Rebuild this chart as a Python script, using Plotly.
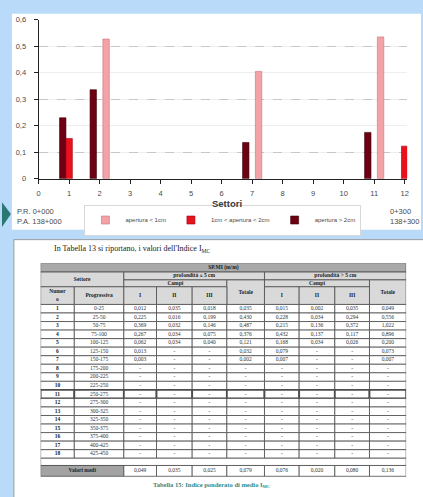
import plotly.graph_objects as go

W, H = 423, 497

# ---------------- bar chart data ----------------
sectors = [1, 2, 3, 4, 5, 6, 7, 8, 9, 10, 11, 12]
ap_lt1 = [None, 0.527, None, None, None, None, 0.405, None, None, None, 0.535, None]
ap_1_2 = [0.152, None, None, None, None, None, None, None, None, None, None, 0.123]
ap_gt2 = [0.230, 0.336, None, None, None, None, 0.137, None, None, None, 0.175, None]
y_ticks = [0, 0.1, 0.2, 0.3, 0.4, 0.5, 0.6]
y_tick_labels = ["0", "0,1", "0,2", "0,3", "0,4", "0,5", "0,6"]
x_ticks = [0, 1, 2, 3, 4, 5, 6, 7, 8, 9, 10, 11, 12]
dashed_levels = [0.1, 0.3, 0.5]

# ---------------- table data ----------------
row_num = [str(i) for i in range(1, 19)]
row_prog = ["0-25", "25-50", "50-75", "75-100", "100-125", "125-150", "150-175",
            "175-200", "200-225", "225-250", "250-275", "275-300", "300-325",
            "325-350", "350-375", "375-400", "400-425", "425-450"]
D = "-"
sh_I = ["0,012", "0,225", "0,369", "0,267", "0,062", "0,013", "0,003"] + [D] * 11
sh_II = ["0,035", "0,016", "0,032", "0,034", "0,034", D, D] + [D] * 11
sh_III = ["0,018", "0,199", "0,146", "0,075", "0,040", D, D] + [D] * 11
sh_tot = ["0,035", "0,430", "0,487", "0,376", "0,121", "0,032", "0,002"] + [D] * 11
dp_I = ["0,015", "0,228", "0,215", "0,432", "0,168", "0,079", "0,007"] + [D] * 11
dp_II = ["0,002", "0,034", "0,136", "0,137", "0,034", D, D] + [D] * 11
dp_III = ["0,035", "0,294", "0,372", "0,117", "0,026", D, D] + [D] * 11
dp_tot = ["0,049", "0,556", "1,022", "0,896", "0,200", "0,073", "0,007"] + [D] * 11
mean_vals = ["0,049", "0,035", "0,025", "0,079", "0,076", "0,020", "0,080", "0,136"]

# ---------------- styling ----------------
BG = "#b9dbf9"
PINK, RED, DARK = "#f3a3a8", "#e8121c", "#6d0012"
PINK_L, RED_L, DARK_L = "#c87078", "#a00010", "#3a0008"
TXT = "#4a4a4a"
SANS = "Liberation Sans, Arial, sans-serif"
SERIF = "Liberation Serif, Times New Roman, serif"


def px_x(v):
    return v / W


def px_y(v):
    return 1 - v / H


fig = go.Figure()

# bars: grouped left to right as > 2cm, 1-2cm, < 1cm
series = [
    (ap_gt2, "apertura &gt; 2cm", DARK, DARK_L),
    (ap_1_2, "1cm &lt; apertura &lt; 2cm", RED, RED_L),
    (ap_lt1, "apertura &lt; 1cm", PINK, PINK_L),
]
for vals, name, fill, edge in series:
    fig.add_trace(go.Bar(x=sectors, y=vals, name=name, showlegend=False,
                         marker=dict(color=fill, line=dict(color=edge, width=0.6))))
# compact square legend keys
for vals, name, fill, edge in series:
    fig.add_trace(go.Scatter(x=[None], y=[None], name=name, mode="markers",
                             marker=dict(symbol="square", size=8, color=fill,
                                         line=dict(color=edge, width=0.6)),
                             hoverinfo="skip"))
# carrier for the dashed grid axis
fig.add_trace(go.Scatter(x=[0], y=[0], yaxis="y2", mode="markers",
                         marker=dict(opacity=0), showlegend=False, hoverinfo="skip"))

# ---------------- table geometry (pixel units on x3/y3) ----------------
COL_EDGES = [39, 73, 123, 156, 192, 227, 265, 300, 336, 371, 408]
T_TOP, T_BOT = 264, 482
ROW0, ROW_H = 306, 8.7
BLANK_BOT = 470
HDR_FILL, TITLE_FILL, MEAN_FILL = "#d9d9d9", "#a9a9a9", "#a3a3a3"
LINE_C = "#4d4d4d"

shapes = []
texts_x, texts_y, texts = [], [], []
btexts_x, btexts_y, btexts = [], [], []


def cell(c0, c1, y0, y1, fill="white", text=None, bold=False, lw=0.8):
    shapes.append(dict(type="rect", xref="x3", yref="y3",
                       x0=COL_EDGES[c0], x1=COL_EDGES[c1], y0=y0, y1=y1,
                       fillcolor=fill, line=dict(color=LINE_C, width=lw), layer="below"))
    if text is not None:
        cx = (COL_EDGES[c0] + COL_EDGES[c1]) / 2
        cy = (y0 + y1) / 2
        if bold:
            btexts_x.append(cx); btexts_y.append(cy); btexts.append(text)
        else:
            texts_x.append(cx); texts_y.append(cy); texts.append(text)


# panels (paper coords)
shapes.append(dict(type="rect", xref="paper", yref="paper",
                   x0=px_x(10), x1=1.0, y0=px_y(230), y1=px_y(10),
                   fillcolor="white", line=dict(width=0), layer="below"))
shapes.append(dict(type="rect", xref="paper", yref="paper",
                   x0=px_x(12), x1=1.02, y0=-0.02, y1=px_y(240),
                   fillcolor="white", line=dict(color="#9a9a9a", width=1), layer="below"))
# arrow tip at the left edge
shapes.append(dict(type="path", xref="paper", yref="paper",
                   path=f"M 0,{px_y(202)} L {px_x(9)},{px_y(214)} L 0,{px_y(227)} Z",
                   fillcolor="#2b7774", line=dict(width=0), layer="above"))

# header block
cell(0, 10, T_TOP, 273, TITLE_FILL, "SP.MI (m/m)", True)
cell(0, 2, 273, 288, HDR_FILL, "Settore", True)
cell(2, 6, 273, 281, HDR_FILL, "profondità ≤ 5 cm", True)
cell(6, 10, 273, 281, HDR_FILL, "profondità > 5 cm", True)
cell(2, 5, 281, 288, HDR_FILL, "Campi", True)
cell(6, 9, 281, 288, HDR_FILL, "Campi", True)
cell(5, 6, 281, ROW0, HDR_FILL, "Totale", True)
cell(9, 10, 281, ROW0, HDR_FILL, "Totale", True)
cell(0, 1, 288, ROW0, HDR_FILL, "Numer<br>o", True)
cell(1, 2, 288, ROW0, HDR_FILL, "Progressiva", True)
for c, lab in zip([2, 3, 4, 6, 7, 8], ["I", "II", "III", "I", "II", "III"]):
    cell(c, c + 1, 288, ROW0, HDR_FILL, lab, True)

# body
columns = [row_num, row_prog, sh_I, sh_II, sh_III, sh_tot, dp_I, dp_II, dp_III, dp_tot]
for r in range(len(row_num)):
    y0 = ROW0 + r * ROW_H
    lw = 1.8 if r == 10 else 0.8
    for c, col in enumerate(columns):
        cell(c, c + 1, y0, y0 + ROW_H, "white", col[r], bold=(c == 0), lw=lw)
body_bot = ROW0 + len(row_num) * ROW_H
cell(0, 10, body_bot, BLANK_BOT, "white")
cell(0, 2, BLANK_BOT, T_BOT - 1, MEAN_FILL, "Valori medi", True)
for c, v in enumerate(mean_vals):
    cell(c + 2, c + 3, BLANK_BOT, T_BOT - 1, "white", v)

fig.add_trace(go.Scatter(x=texts_x, y=texts_y, text=texts, mode="text", xaxis="x3", yaxis="y3",
                         textfont=dict(family=SERIF, size=5.5, color="#333"),
                         showlegend=False, hoverinfo="skip"))
fig.add_trace(go.Scatter(x=btexts_x, y=btexts_y, text=[f"<b>{t}</b>" for t in btexts],
                         mode="text", xaxis="x3", yaxis="y3",
                         textfont=dict(family=SERIF, size=5.5, color="#222"),
                         showlegend=False, hoverinfo="skip"))

annotations = [
    dict(text="<b>Settori</b>", x=px_x(227), y=px_y(203), xref="paper", yref="paper",
         yanchor="middle", showarrow=False, font=dict(family=SANS, size=9.5, color="#3a3a3a")),
    dict(text="P.R. 0+000<br>P.A. 138+000", x=px_x(13), y=px_y(216), xref="paper", yref="paper",
         xanchor="left", yanchor="middle", align="left", showarrow=False,
         font=dict(family=SANS, size=7.5, color=TXT)),
    dict(text="0+300<br>138+300", x=px_x(390), y=px_y(216), xref="paper", yref="paper",
         xanchor="left", yanchor="middle", align="left", showarrow=False,
         font=dict(family=SANS, size=7.5, color=TXT)),
    dict(text="In Tabella 13 si riportano, i valori dell'Indice I<sub>MC</sub>",
         x=px_x(50), y=px_y(250), xref="paper", yref="paper", xanchor="left",
         yanchor="middle", showarrow=False, font=dict(family=SERIF, size=8, color="#222")),
    dict(text="<b>Tabella 15: Indice ponderato di medio I<sub>MC</sub></b>",
         x=px_x(212), y=px_y(490), xref="paper", yref="paper", yanchor="middle",
         showarrow=False, font=dict(family=SERIF, size=6.5, color="#2f8c8a")),
]

fig.update_layout(
    width=W, height=H, margin=dict(l=0, r=0, t=0, b=0),
    paper_bgcolor=BG, plot_bgcolor="rgba(0,0,0,0)",
    barmode="group", bargap=0.37, bargroupgap=0,
    showlegend=True,
    legend=dict(orientation="h", traceorder="reversed", x=px_x(223), xanchor="center",
                y=px_y(220), yanchor="middle", bgcolor="white", bordercolor="#d8d8d8",
                borderwidth=1, font=dict(family=SANS, size=6, color=TXT),
                itemwidth=30, itemsizing="trace", tracegroupgap=0),
    xaxis=dict(domain=[px_x(37), px_x(409)], range=[0, 12.08], tickvals=x_ticks,
               showgrid=False, zeroline=False, showline=True, linecolor="#222", linewidth=1,
               ticks="outside", ticklen=4, tickcolor="#222", ticklabelstandoff=3,
               tickfont=dict(family=SANS, size=7.5, color=TXT), fixedrange=True),
    yaxis=dict(domain=[px_y(178), px_y(16)], range=[0, 0.6], tickvals=y_ticks,
               ticktext=y_tick_labels, showgrid=True, gridcolor="#eeeeee", gridwidth=1,
               zeroline=False, showline=True, linecolor="#222", linewidth=1,
               ticks="outside", ticklen=4, tickcolor="#222", ticklabelstandoff=6,
               tickfont=dict(family=SANS, size=7.5, color=TXT), fixedrange=True),
    yaxis2=dict(overlaying="y", range=[0, 0.6], tickvals=dashed_levels, showticklabels=False,
                showgrid=True, gridcolor="#c8c8c8", griddash="dash", gridwidth=1,
                zeroline=False, showline=False, ticks=""),
    xaxis3=dict(domain=[px_x(39), px_x(408)], range=[39, 408], anchor="y3",
                visible=False, fixedrange=True),
    yaxis3=dict(domain=[px_y(T_BOT), px_y(T_TOP)], range=[T_BOT, T_TOP], anchor="x3",
                visible=False, fixedrange=True),
    shapes=shapes,
    annotations=annotations,
)

fig.write_html("out.html")
